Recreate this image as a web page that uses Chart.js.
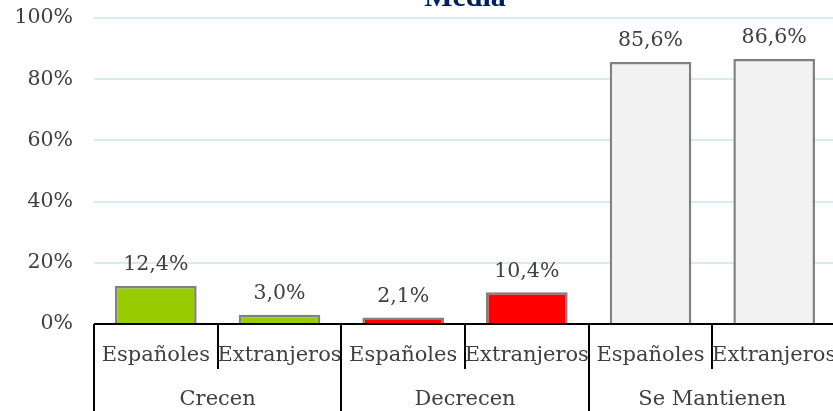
<!DOCTYPE html>
<html>
<head>
<meta charset="utf-8">
<script src="https://cdn.jsdelivr.net/npm/chart.js@4.4.1/dist/chart.umd.min.js"></script>
<style>
  html, body { margin: 0; padding: 0; overflow: hidden; background: #fff; }
  #wrap { width: 836px; height: 411px; }
</style>
</head>
<body>
<div id="wrap"><canvas id="chart"></canvas></div>
<script>
// two-level categories
const groups = ["Crecen", "Decrecen", "Se Mantienen"]
const subLabels = ["Españoles", "Extranjeros", "Españoles", "Extranjeros", "Españoles", "Extranjeros"]
const values = [12.4, 3.0, 2.1, 10.4, 85.6, 86.6]
const barColors = ["#99cc00", "#99cc00", "#ff0000", "#ff0000", "#f2f2f2", "#f2f2f2"]
const yTicks = [0, 20, 40, 60, 80, 100]
const chartTitle = "Media"

const serif = "'DejaVu Serif', Georgia, serif"
const textColor = "#404040"

const fmt = v => v.toFixed(1).replace(".", ",") + "%"

const extras = {
    id: "extras",
    afterDatasetsDraw(chart) {
        const ctx = chart.ctx
        const area = chart.chartArea
        const x = chart.scales.x
        const meta = chart.getDatasetMeta(0)

        // value labels
        ctx.save()
        ctx.font = "20.5px " + serif
        ctx.fillStyle = textColor
        ctx.textAlign = "center"
        ctx.textBaseline = "middle"
        meta.data.forEach((bar, i) => {
            ctx.fillText(fmt(values[i]), bar.x, bar.y - 21)
        })

        // axis line + separators
        ctx.strokeStyle = "#000"
        ctx.lineWidth = 2
        ctx.beginPath()
        ctx.moveTo(area.left, area.bottom)
        ctx.lineTo(area.right, area.bottom)
        const step = (x.getPixelForValue(1) - x.getPixelForValue(0))
        for (let i = 0; i <= subLabels.length; i++) {
            const px = Math.round(x.getPixelForValue(i) - step / 2)
            const end = (i % 2 === 0) ? chart.height : area.bottom + 45
            ctx.moveTo(px, area.bottom)
            ctx.lineTo(px, end)
        }
        ctx.stroke()

        // category labels
        ctx.font = "21px " + serif
        subLabels.forEach((lab, i) => {
            ctx.fillText(lab, x.getPixelForValue(i), area.bottom + 32)
        })
        groups.forEach((g, j) => {
            const cx = (x.getPixelForValue(j * 2) + x.getPixelForValue(j * 2 + 1)) / 2
            ctx.fillText(g, cx, area.bottom + 76)
        })

        // title (cut off at the top)
        ctx.font = "bold 30px 'Liberation Serif', serif"
        ctx.fillStyle = "#002060"
        ctx.textBaseline = "alphabetic"
        ctx.fillText(chartTitle, (area.left + area.right) / 2, 6)
        ctx.restore()
    }
}

new Chart(document.getElementById("chart"), {
    type: "bar",
    data: {
        labels: subLabels,
        datasets: [{
            data: values,
            backgroundColor: barColors,
            borderColor: "#808080",
            borderWidth: 2.5,
            borderSkipped: "bottom",
            barPercentage: 0.66,
            categoryPercentage: 1
        }]
    },
    options: {
        responsive: true,
        maintainAspectRatio: false,
        animation: false,
        layout: { padding: { top: 18, bottom: 87, left: 0, right: 0 } },
        plugins: {
            legend: { display: false },
            tooltip: { enabled: false },
            title: { display: false }
        },
        scales: {
            x: {
                ticks: { display: false },
                grid: { display: false, drawTicks: false },
                border: { display: false }
            },
            y: {
                min: 0,
                max: 100,
                afterFit(scale) {
                    scale.width = 94
                    scale.paddingTop = 0
                    scale.paddingBottom = 0
                },
                afterBuildTicks(scale) { scale.ticks = yTicks.map(v => ({ value: v })) },
                ticks: {
                    padding: 21,
                    color: textColor,
                    font: { family: serif, size: 20.5 },
                    callback: v => v + "%"
                },
                grid: { color: "#d6ecf3", lineWidth: 2, drawTicks: false },
                border: { display: false }
            }
        }
    },
    plugins: [extras]
})
</script>
</body>
</html>
